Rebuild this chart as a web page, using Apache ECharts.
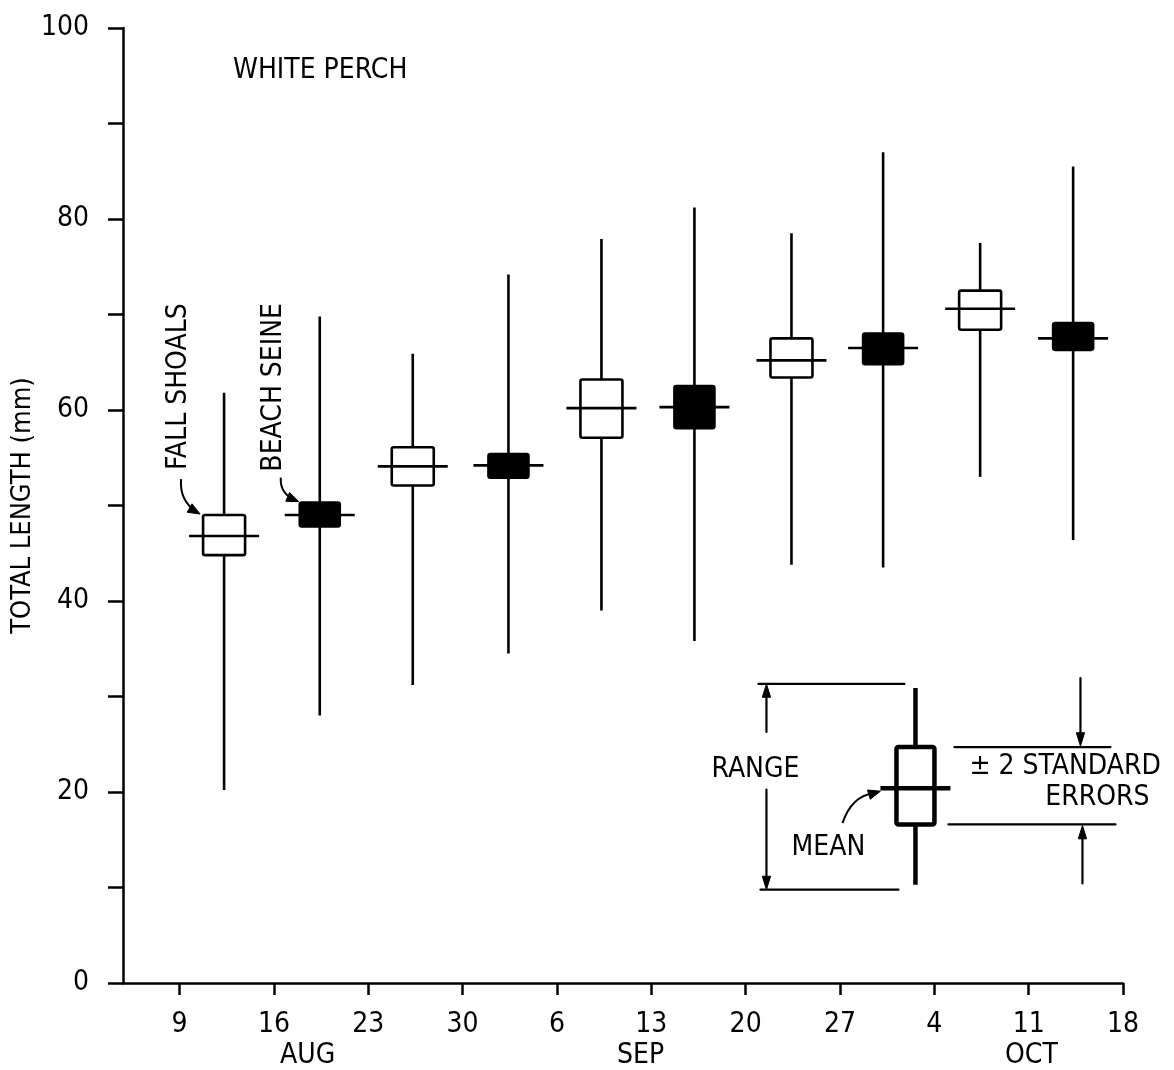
<!DOCTYPE html>
<html>
<head>
<meta charset="utf-8">
<script src="https://cdn.jsdelivr.net/npm/echarts@6/dist/echarts.min.js"></script>
<style>
  html, body { margin: 0; padding: 0; background: #fff; }
  #chart { width: 1174px; height: 1070px; }
</style>
</head>
<body>
<div id="chart"></div>
<script>
// Sampling dates are counted in days from 1 August (6 Sep = 37, 4 Oct = 65).
const weekTicks = [9, 16, 23, 30, 37, 44, 51, 58, 65, 72, 79];
const weekTickLabels = ['9', '16', '23', '30', '6', '13', '20', '27', '4', '11', '18'];
const monthPositions = [18.5, 43.2, 72.2];
const monthLabels = ['AUG', 'SEP', 'OCT'];

// Fall shoals collections (open boxes): range, mean and +/- 2 standard errors, mm
const fallDays = [12.3, 26.3, 40.3, 54.4, 68.4];
const fallMin  = [20.2, 31.2, 39.0, 43.8, 53.0];
const fallLoSE = [44.8, 52.1, 57.1, 63.4, 68.4];
const fallMean = [46.8, 54.1, 60.2, 65.2, 70.6];
const fallHiSE = [49.0, 56.1, 63.2, 67.5, 72.5];
const fallMax  = [61.8, 65.9, 77.9, 78.5, 77.5];

// Beach seine collections (filled boxes)
const seineDays = [19.4, 33.4, 47.2, 61.2, 75.3];
const seineMin  = [28.0, 34.5, 35.8, 43.5, 46.4];
const seineLoSE = [47.8, 52.9, 58.1, 64.8, 66.3];
const seineMean = [49.0, 54.2, 60.3, 66.5, 67.5];
const seineHiSE = [50.3, 55.4, 62.5, 68.0, 69.1];
const seineMax  = [69.8, 74.2, 81.2, 87.0, 85.5];

// Explanatory sample box: [day, min, -2SE, mean, +2SE, max]
const keySample = [63.6, 10.3, 16.6, 20.4, 24.7, 30.9];

const FONT = "'Liberation Sans Narrow', 'DejaVu Sans Condensed', 'Liberation Sans', sans-serif";
const INK = '#000';

function rows(days, mins, los, means, his, maxs) {
  return days.map((d, i) => [d, mins[i], los[i], means[i], his[i], maxs[i]]);
}

function arrowHead(tipX, tipY, angle, len, spread) {
  const a1 = angle + Math.PI - spread, a2 = angle + Math.PI + spread;
  return {
    type: 'polygon',
    shape: { points: [
      [tipX, tipY],
      [tipX + len * Math.cos(a1), tipY + len * Math.sin(a1)],
      [tipX + len * Math.cos(a2), tipY + len * Math.sin(a2)]
    ] },
    style: { fill: INK, stroke: INK, lineWidth: 1 }
  };
}

function seg(x1, y1, x2, y2, lw) {
  return { type: 'line', shape: { x1, y1, x2, y2 }, style: { stroke: INK, lineWidth: lw, lineCap: 'round' } };
}

function label(text, x, y, align, rotation) {
  return {
    type: 'text', x, y, rotation: rotation || 0,
    style: { text, fill: INK, font: '28px ' + FONT, align: align || 'center', verticalAlign: 'middle' }
  };
}

// Whisker for the range, box for +/- 2 SE, crossbar for the mean
function boxShapes(api, filled, lw, halfW, halfMean) {
  const x = api.value(0);
  const c = v => api.coord([x, v]);
  const top = c(api.value(5)), bot = c(api.value(1));
  const hi = c(api.value(4)), lo = c(api.value(2)), mean = c(api.value(3));
  const px = top[0];
  return {
    px, hiY: hi[1], loY: lo[1], meanY: mean[1], topY: top[1], botY: bot[1],
    shapes: [
      { type: 'line', shape: { x1: px, y1: top[1], x2: px, y2: bot[1] }, style: { stroke: INK, lineWidth: lw } },
      { type: 'rect', shape: { x: px - halfW, y: hi[1], width: 2 * halfW, height: lo[1] - hi[1], r: 2 },
        style: { fill: filled ? INK : '#fff', stroke: INK, lineWidth: lw } },
      { type: 'line', shape: { x1: px - halfMean, y1: mean[1], x2: px + halfMean, y2: mean[1] }, style: { stroke: INK, lineWidth: lw } }
    ]
  };
}

function renderFall(params, api) {
  const b = boxShapes(api, false, 2.6, 21, 35);
  const children = b.shapes.slice();
  if (params.dataIndex === 0) {
    const left = b.px - 21, top = b.hiY;
    children.push(label('FALL SHOALS', left - 24, top - 45, 'left', Math.PI / 2));
    children.push({ type: 'bezierCurve',
      shape: { x1: left - 22, y1: top - 36, x2: left - 5, y2: top - 2, cpx1: left - 24, cpy1: top - 14 },
      style: { stroke: INK, lineWidth: 2, fill: null } });
    children.push(arrowHead(left - 3, top - 1, Math.atan2(8, 14), 13, 0.38));
  }
  return { type: 'group', children };
}

function renderSeine(params, api) {
  const b = boxShapes(api, true, 2.6, 20, 35);
  const children = b.shapes.slice();
  if (params.dataIndex === 0) {
    const left = b.px - 20, top = b.hiY;
    children.push(label('BEACH SEINE', left - 26, top - 31, 'left', Math.PI / 2));
    children.push({ type: 'bezierCurve',
      shape: { x1: left - 19, y1: top - 25, x2: left - 3, y2: top - 2, cpx1: left - 20, cpy1: top - 8 },
      style: { stroke: INK, lineWidth: 2, fill: null } });
    children.push(arrowHead(left - 1, top - 1, Math.atan2(6, 14), 13, 0.38));
  }
  return { type: 'group', children };
}

function renderKey(params, api) {
  const b = boxShapes(api, false, 4.5, 19, 35);
  const cx = b.px;
  const children = b.shapes.slice();
  const rangeTop = b.topY - 4, rangeBot = b.botY + 5, ax = cx - 149;
  // range bracket
  children.push(seg(cx - 157, rangeTop, cx - 11, rangeTop, 2.2));
  children.push(seg(cx - 155, rangeBot, cx - 17, rangeBot, 2.2));
  children.push(seg(ax, rangeTop + 8, ax, rangeTop + 48, 2.2));
  children.push(seg(ax, rangeBot - 100, ax, rangeBot - 8, 2.2));
  children.push(arrowHead(ax, rangeTop, -Math.PI / 2, 14, 0.3));
  children.push(arrowHead(ax, rangeBot, Math.PI / 2, 14, 0.3));
  children.push(label('RANGE', cx - 160, b.meanY - 18));
  // mean pointer
  children.push(label('MEAN', cx - 87, b.meanY + 60));
  children.push({ type: 'bezierCurve',
    shape: { x1: cx - 73, y1: b.meanY + 35, x2: cx - 42, y2: b.meanY + 5, cpx1: cx - 64, cpy1: b.meanY + 8 },
    style: { stroke: INK, lineWidth: 2, fill: null } });
  children.push(arrowHead(cx - 35, b.meanY + 3, Math.atan2(-3, 10), 13, 0.38));
  // standard error bracket
  children.push(seg(cx + 39, b.hiY, cx + 195, b.hiY, 2.2));
  children.push(seg(cx + 33, b.loY, cx + 200, b.loY, 2.2));
  children.push(seg(cx + 165, b.hiY - 69, cx + 165, b.hiY - 10, 2.2));
  children.push(arrowHead(cx + 165, b.hiY - 1, Math.PI / 2, 14, 0.3));
  children.push(seg(cx + 167, b.loY + 59, cx + 167, b.loY + 10, 2.2));
  children.push(arrowHead(cx + 167, b.loY + 1, -Math.PI / 2, 14, 0.3));
  children.push(label('± 2 STANDARD', cx + 54, b.hiY + 20, 'left'));
  children.push(label('ERRORS', cx + 182, b.hiY + 51));
  return { type: 'group', children };
}

const chart = echarts.init(document.getElementById('chart'), null, { renderer: 'canvas' });

const axisText = { color: INK, fontFamily: FONT, fontSize: 28 };

chart.setOption({
  backgroundColor: '#fff',
  animation: false,
  title: {
    text: 'WHITE PERCH', left: 228, top: 52,
    textStyle: { color: INK, fontFamily: FONT, fontSize: 28, fontWeight: 'normal' }
  },
  grid: { left: 123, right: 51, top: 28, bottom: 87, containLabel: false, outerBoundsMode: 'none' },
  xAxis: [
    {
      type: 'value', min: 4.8, max: 79,
      axisLine: { lineStyle: { color: INK, width: 2.5 } },
      axisTick: { customValues: weekTicks, length: 12, lineStyle: { color: INK, width: 2.5 } },
      axisLabel: Object.assign({}, axisText, {
        customValues: weekTicks, margin: 28,
        formatter: v => weekTickLabels[weekTicks.indexOf(v)]
      }),
      splitLine: { show: false }
    },
    {
      type: 'value', min: 4.8, max: 79, position: 'bottom',
      axisLine: { show: false }, axisTick: { show: false }, splitLine: { show: false },
      axisLabel: Object.assign({}, axisText, {
        customValues: monthPositions, margin: 59,
        formatter: v => monthLabels[monthPositions.indexOf(v)]
      })
    }
  ],
  yAxis: {
    type: 'value', min: 0, max: 100, interval: 10,
    name: 'TOTAL LENGTH (mm)', nameLocation: 'middle', nameGap: 87, nameRotate: 90,
    nameMoveOverlap: false,
    nameTextStyle: { color: INK, fontFamily: FONT, fontSize: 27 },
    axisLine: { lineStyle: { color: INK, width: 2.5 } },
    axisTick: { length: 15, lineStyle: { color: INK, width: 2.5 } },
    axisLabel: Object.assign({}, axisText, {
      margin: 34, formatter: v => (v % 20 === 0 ? String(v) : '')
    }),
    splitLine: { show: false }
  },
  series: [
    {
      name: 'FALL SHOALS', type: 'custom', xAxisIndex: 0, renderItem: renderFall,
      encode: { x: 0, y: [1, 5] },
      data: rows(fallDays, fallMin, fallLoSE, fallMean, fallHiSE, fallMax)
    },
    {
      name: 'BEACH SEINE', type: 'custom', xAxisIndex: 0, renderItem: renderSeine,
      encode: { x: 0, y: [1, 5] },
      data: rows(seineDays, seineMin, seineLoSE, seineMean, seineHiSE, seineMax)
    },
    {
      name: 'KEY', type: 'custom', xAxisIndex: 0, renderItem: renderKey,
      encode: { x: 0, y: [1, 5] },
      data: [keySample]
    }
  ]
});
</script>
</body>
</html>
